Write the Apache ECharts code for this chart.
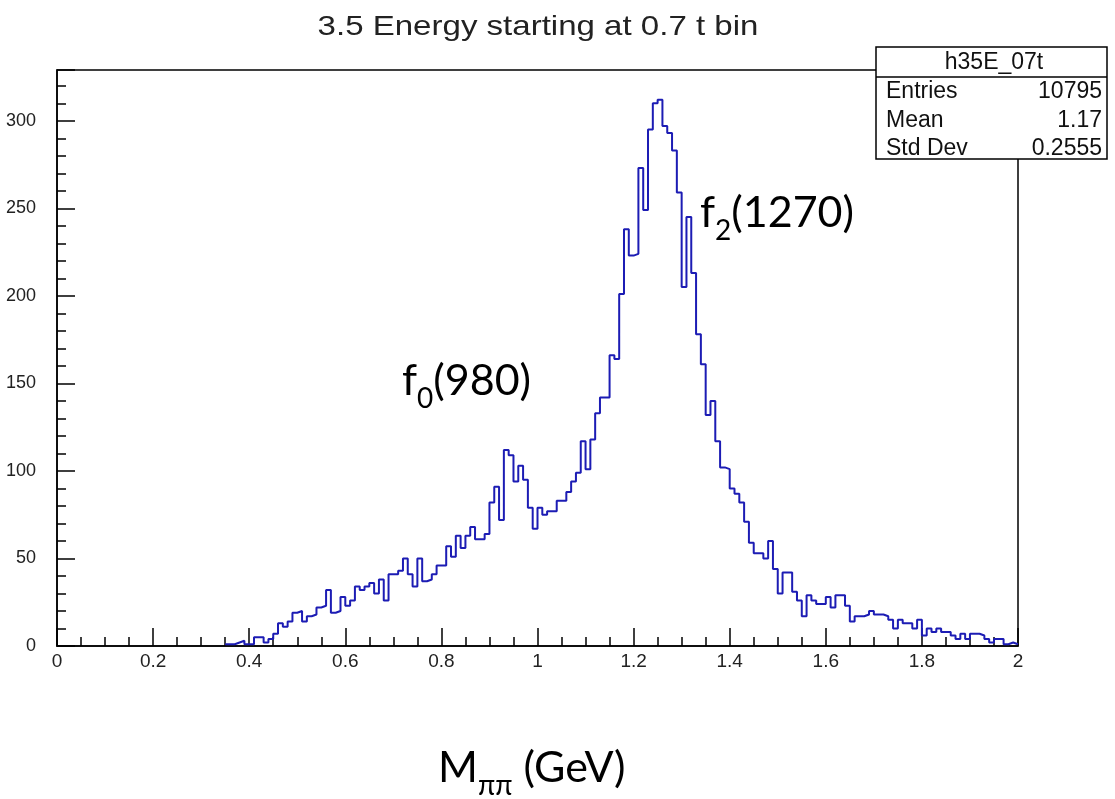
<!DOCTYPE html>
<html><head><meta charset="utf-8">
<script src="https://cdn.jsdelivr.net/npm/echarts@6/dist/echarts.min.js"></script>
<style>html,body{margin:0;padding:0;background:#fff}#c{width:1115px;height:799px}</style>
</head><body><div id="c"></div>
<script>
// ---- data ----
const chartTitle = '3.5 Energy starting at 0.7 t bin';
const binLow = 0;
const binWidth = 0.01;
const counts = [
  0,0,0,0,0,0,0,0,0,0,
  0,0,0,0,0,0,0,0,0,0,
  0,0,0,0,0,0,0,0,0,0,
  0,0,0,0,0,
  1,1,2,3,1,1,5,5,2,4,
  7,13,11,14,19,20,14,17,18,22,
  23,32,19,20,28,23,26,34,32,34,
  36,30,38,26,41,41,43,50,41,34,
  50,37,38,41,46,46,57,51,63,56,
  63,68,61,61,64,82,91,72,112,109,
  94,103,95,79,67,79,75,77,77,83,
  83,88,94,99,117,101,118,133,142,142,
  166,164,201,238,223,224,273,249,295,310,
  312,297,293,283,259,205,245,213,178,161,
  132,140,117,102,101,90,87,82,71,59,
  53,53,50,60,44,30,42,42,31,26,
  17,29,26,24,24,28,22,29,29,23,
  14,17,17,18,20,18,18,17,15,10,
  15,13,13,10,15,6,10,8,10,8,
  8,6,4,7,4,7,7,6,4,2,
  4,4,1,2,1
];
const statsName = 'h35E_07t';
const statsLabels = ['Entries', 'Mean', 'Std Dev'];
const statsValues = ['10795', '1.17', '0.2555'];
const xAxisTitle = { main: 'M', sub: 'ππ', rest: ' (GeV)' };
const peakLabels = [
  { main: 'f', sub: '0', rest: '(980)' },
  { main: 'f', sub: '2', rest: '(1270)' }
];

// ---- build ----
const firstBin = counts.findIndex(v => v > 0);
const histData = [];
for (let i = firstBin; i < counts.length; i++) histData.push([binLow + i * binWidth, counts[i]]);
histData.push([binLow + counts.length * binWidth, counts[counts.length - 1]]);

const FONT = '"Liberation Sans", Arial, sans-serif';
const richSub = {
  m: { fontFamily: 'Lato', fontSize: 43, lineHeight: 64, color: '#000' },
  s: { fontFamily: 'Lato', fontSize: 28, lineHeight: 29, color: '#000', verticalAlign: 'bottom' }
};
function labelText(o) { return '{m|' + o.main + '}{s|' + o.sub + '}{m|' + o.rest + '}'; }

const statsGraphics = [
  { type: 'rect', shape: { x: 876, y: 47, width: 231, height: 112 }, style: { fill: '#fff', stroke: '#000', lineWidth: 1.5 }, z: 100 },
  { type: 'line', shape: { x1: 876, y1: 77, x2: 1107, y2: 77 }, style: { stroke: '#000', lineWidth: 1.5 }, z: 101 },
  { type: 'text', x: 994, y: 63, z: 101, style: { text: statsName, fontFamily: FONT, fontSize: 23, fill: '#111', align: 'center', verticalAlign: 'middle' } }
];
const rowY = [92, 121, 149];
statsLabels.forEach((l, i) => {
  statsGraphics.push({ type: 'text', x: 886, y: rowY[i], z: 101, style: { text: l, fontFamily: FONT, fontSize: 23, fill: '#111', align: 'left', verticalAlign: 'middle' } });
  statsGraphics.push({ type: 'text', x: 1102, y: rowY[i], z: 101, style: { text: statsValues[i], fontFamily: FONT, fontSize: 23, fill: '#111', align: 'right', verticalAlign: 'middle' } });
});

const chart = echarts.init(document.getElementById('c'), null, { renderer: 'canvas' });
chart.setOption({
  animation: false,
  backgroundColor: '#fff',
  grid: { left: 57, right: 97, top: 70, bottom: 153, show: true, borderColor: '#000', borderWidth: 1.5, containLabel: false },
  xAxis: {
    type: 'value', min: 0, max: 2, interval: 0.2,
    axisLine: { show: true, lineStyle: { color: '#000', width: 1.5 } },
    axisTick: { show: true, inside: true, length: 18, lineStyle: { color: '#000', width: 1.5 } },
    minorTick: { show: true, splitNumber: 4, length: 9, lineStyle: { color: '#000', width: 1.5 } },
    splitLine: { show: false },
    axisLabel: { color: '#222', fontFamily: FONT, fontSize: 19, margin: 6 }
  },
  yAxis: {
    type: 'value', min: 0, max: 329, interval: 50,
    axisLine: { show: true, lineStyle: { color: '#000', width: 1.5 } },
    axisTick: { show: true, inside: true, length: 18, lineStyle: { color: '#000', width: 1.5 } },
    minorTick: { show: true, splitNumber: 5, length: 9, lineStyle: { color: '#000', width: 1.5 } },
    splitLine: { show: false },
    axisLabel: { color: '#222', fontFamily: FONT, fontSize: 18, margin: 21, showMaxLabel: false }
  },
  series: [{
    type: 'line', step: 'end', data: histData, symbol: 'none',
    lineStyle: { color: '#1c1cb4', width: 2 }, z: 2, clip: true
  }],
  graphic: [
    { type: 'text', x: 538, y: 27, scaleX: 1.18, style: { text: chartTitle, fontFamily: FONT, fontSize: 28, fill: '#222', align: 'center', verticalAlign: 'middle' } },
    { type: 'text', x: 402, y: 349, style: { text: labelText(peakLabels[0]), rich: richSub, align: 'left', verticalAlign: 'top' } },
    { type: 'text', x: 700, y: 181, style: { text: labelText(peakLabels[1]), rich: richSub, align: 'left', verticalAlign: 'top' } },
    { type: 'text', x: 438, y: 736, style: { text: labelText(xAxisTitle), rich: richSub, align: 'left', verticalAlign: 'top' } }
  ].concat(statsGraphics)
});
</script></body></html>
